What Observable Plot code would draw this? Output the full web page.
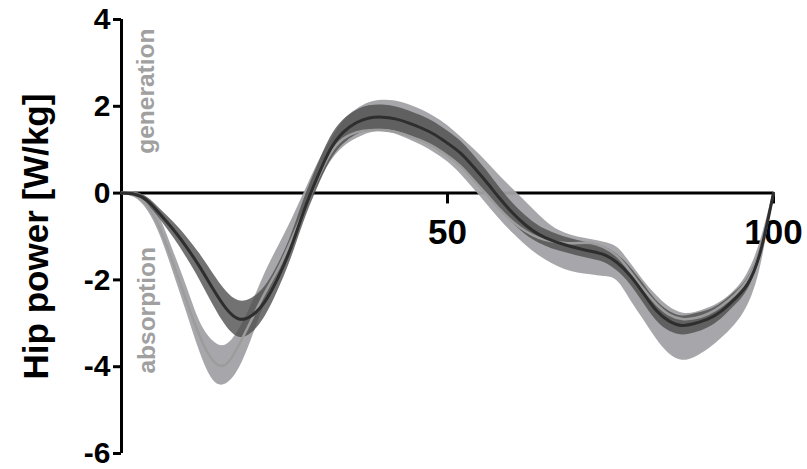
<!DOCTYPE html>
<html>
<head>
<meta charset="utf-8">
<script src="https://cdn.jsdelivr.net/npm/d3@7"></script>
<script src="https://cdn.jsdelivr.net/npm/@observablehq/plot@0.6"></script>
<style>
  html, body { margin: 0; padding: 0; background: #fff; }
  #chart { width: 807px; height: 469px; }
</style>
</head>
<body>
<div id="chart"></div>
<script>
// % of cycle (0..100 step 2)
const cycle = [0,2,4,6,8,10,12,14,16,18,20,22,24,26,28,30,32,34,36,38,40,42,44,46,48,50,52,54,56,58,60,62,64,66,68,70,72,74,76,78,80,82,84,86,88,90,92,94,96,98,100];

// dark group: mean and half band width
const darkMean = [0,-0.03,-0.18,-0.5,-0.85,-1.25,-1.7,-2.2,-2.65,-2.9,-2.82,-2.5,-1.95,-1.25,-0.4,0.35,1.0,1.4,1.62,1.73,1.75,1.71,1.62,1.5,1.35,1.15,0.92,0.6,0.25,-0.12,-0.46,-0.74,-0.95,-1.09,-1.19,-1.27,-1.34,-1.42,-1.6,-1.9,-2.3,-2.7,-2.95,-3.05,-3.0,-2.9,-2.72,-2.45,-2.1,-1.35,0];
const darkSd = [0.02,0.04,0.08,0.12,0.18,0.24,0.3,0.36,0.4,0.42,0.4,0.35,0.3,0.27,0.26,0.26,0.27,0.28,0.28,0.28,0.28,0.28,0.28,0.28,0.28,0.28,0.28,0.28,0.27,0.25,0.23,0.22,0.2,0.19,0.18,0.18,0.18,0.18,0.19,0.2,0.22,0.23,0.23,0.22,0.22,0.2,0.18,0.16,0.14,0.1,0.03];

// light group: band edges and mean line
const lightLo = [-0.03,-0.1,-0.4,-1.0,-1.85,-2.75,-3.65,-4.3,-4.4,-4.05,-3.35,-2.55,-1.85,-1.15,-0.5,0.15,0.7,1.05,1.25,1.38,1.42,1.36,1.24,1.1,0.93,0.72,0.44,0.1,-0.25,-0.6,-0.92,-1.2,-1.44,-1.62,-1.76,-1.84,-1.88,-1.92,-2.02,-2.45,-2.9,-3.35,-3.7,-3.85,-3.78,-3.6,-3.35,-3.05,-2.6,-1.7,-0.05];
const lightHi = [0.03,0.02,-0.12,-0.6,-1.35,-2.15,-2.95,-3.4,-3.5,-3.15,-2.55,-1.85,-1.25,-0.65,0.0,0.65,1.2,1.65,1.92,2.08,2.14,2.12,2.04,1.92,1.76,1.56,1.3,1.02,0.72,0.4,0.1,-0.2,-0.5,-0.76,-0.92,-1.01,-1.07,-1.13,-1.25,-1.6,-2.0,-2.35,-2.62,-2.76,-2.75,-2.65,-2.5,-2.25,-1.85,-1.1,0.05];
const lightMean = [0,-0.05,-0.3,-0.85,-1.65,-2.5,-3.3,-3.85,-3.95,-3.5,-2.9,-2.3,-1.75,-1.1,-0.4,0.3,0.9,1.25,1.4,1.45,1.45,1.41,1.32,1.21,1.06,0.86,0.62,0.3,-0.03,-0.37,-0.66,-0.88,-1.03,-1.11,-1.15,-1.15,-1.15,-1.25,-1.45,-1.8,-2.2,-2.55,-2.8,-2.9,-2.88,-2.78,-2.6,-2.35,-2.0,-1.3,0];

const yTicks = [-6,-4,-2,0,2,4];
const xTicks = [50,100];
const yTitle = "Hip power [W/kg]";
const zoneLabels = [{text: "generation", x: 3.8, y: 2.35}, {text: "absorption", x: 4.0, y: -2.7}];

const rows = cycle.map((c, i) => ({
  x: c,
  dm: darkMean[i], dlo: darkMean[i] - darkSd[i], dhi: darkMean[i] + darkSd[i],
  lm: lightMean[i], llo: lightLo[i], lhi: lightHi[i]
}));

const font = "'Liberation Sans', Arial, Helvetica, sans-serif";

const chart = Plot.plot({
  width: 807,
  height: 469,
  marginLeft: 121,
  marginRight: 34,
  marginTop: 19,
  marginBottom: 16,
  style: {fontFamily: font, background: "#fff", overflow: "visible"},
  x: {domain: [0, 100]},
  y: {domain: [-6, 4]},
  marks: [
    Plot.axisY({ticks: yTicks, tickSize: 8, tickPadding: 3, tickFormat: d => String(d), fontSize: 30, fontWeight: "bold", stroke: "#000", strokeWidth: 3, label: null, color: "#000"}),
    Plot.axisX({ticks: [], label: null, tickSize: 0}),
    Plot.ruleX([0], {y1: -6, y2: 4, stroke: "#000", strokeWidth: 3}),
    Plot.ruleY([0], {x1: 0, x2: 100, stroke: "#000", strokeWidth: 3}),
    Plot.ruleX(xTicks, {y1: 0, y2: -0.25, stroke: "#000", strokeWidth: 3}),
    Plot.text(xTicks, {x: d => d, y: 0, dy: 40, text: d => String(d), fontSize: 35, fontWeight: "bold", fill: "#000"}),
    Plot.areaY(rows, {x: "x", y1: "llo", y2: "lhi", fill: "#a2a2a6", fillOpacity: 0.95, curve: "natural"}),
    Plot.areaY(rows, {x: "x", y1: "dlo", y2: "dhi", fill: "#4f4f4f", fillOpacity: 0.8, curve: "natural"}),
    Plot.line(rows, {x: "x", y: "lm", stroke: "#9c9c9c", strokeWidth: 2.5, curve: "natural"}),
    Plot.line(rows, {x: "x", y: "dm", stroke: "#2e2e2e", strokeWidth: 3, curve: "natural"}),
    Plot.text(zoneLabels, {x: "x", y: "y", text: "text", rotate: -90, fontSize: 24.5, fontWeight: "bold", fill: "#a0a0a0"}),
    Plot.text([yTitle], {frameAnchor: "left", dx: -85, textAnchor: "middle", rotate: -90, text: d => d, fontSize: 35, fontWeight: "bold", fill: "#000"})
  ]
});
document.getElementById("chart").appendChild(chart);
</script>
</body>
</html>
